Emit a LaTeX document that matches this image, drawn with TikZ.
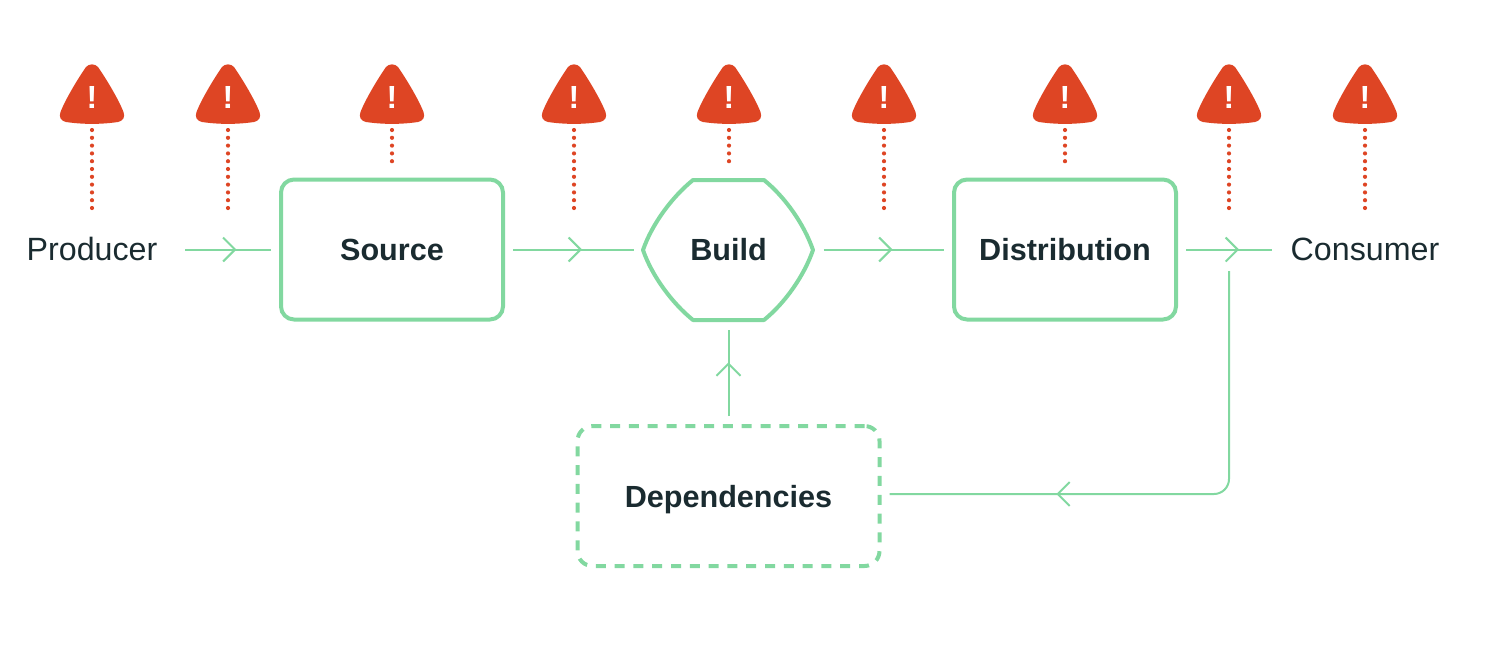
\documentclass[tikz,border=0pt]{standalone}
\usepackage{fontspec}
\setmainfont{Liberation Sans}
\usetikzlibrary{arrows.meta,decorations.markings}

\definecolor{flowgreen}{HTML}{82D8A0}
\definecolor{alertred}{HTML}{DE4524}
\definecolor{inkdark}{HTML}{1A2B30}

\tikzset{
  stage/.style={align=center, text=inkdark, font=\fontsize{15.3}{18}\selectfont\bfseries, inner sep=0pt, outer sep=5pt, text height=14pt, text depth=3pt},
  box/.style={stage, draw=flowgreen, line width=2pt, rounded corners=6.5pt, minimum width=111pt, minimum height=70pt},
  endpoint/.style={align=center, text=inkdark, font=\fontsize{16.1}{18}\selectfont, inner sep=0pt, minimum width=93pt, text height=13.5pt, text depth=3pt},
  alert/.style={text=white, font=\fontsize{16}{16}\selectfont\bfseries, inner sep=0pt, minimum width=32pt, minimum height=27pt, outer sep=3pt},
  dots/.style={alertred, line width=2.1pt, line cap=round, dash pattern=on 0pt off 3.9pt},
  flow/.style={flowgreen, line width=1pt, decoration={markings, mark=at position #1 with {\arrow[flowgreen, line width=1pt]{Straight Barb[length=6pt, width=12pt]}}}, postaction={decorate}}
}

\begin{document}
\begin{tikzpicture}[x=0.5pt, y=-0.5pt]
\useasboundingbox (0,0) rectangle (1512,660);

\node[endpoint] (prod) at (92,249.5) {Producer};
\node[endpoint] (cons) at (1365,249.5) {Consumer};
\node[box] (src) at (392,249.5) {Source};
\node[box] (dist) at (1065,249.5) {Distribution};

% build has a shape of its own, the node only holds the label
\draw[flowgreen, line width=2pt, fill=white, line join=round] (693,180) -- (764,180) .. controls (785,197) and (804,224) .. (813,250) .. controls (804,276) and (785,303) .. (764,320) -- (693,320) .. controls (672,303) and (652,276) .. (643,250) .. controls (652,224) and (672,197) .. (693,180) -- cycle;
\node[stage, minimum width=85pt, minimum height=70pt] (bld) at (728.5,249.5) {Build};

\node[box, minimum width=151pt, rounded corners=7.5pt, dash pattern=on 5pt off 4.4pt] (dep) at (728.5,496) {Dependencies};

\coordinate (loop) at (1229,271);

\draw[flow=0.597] (prod) -- (src);
\draw[flow=0.573] (src) -- (bld);
\draw[flow=0.573] (bld) -- (dist);
\draw[flow=0.62] (dist) -- (cons);
\draw[flow=0.62] (dep.north) -- (bld.south);
\draw[flow=0.70, rounded corners=7.5pt] (loop) |- ([yshift=1pt]dep.east);

\foreach \nm/\xx/\yy in {a/92/208.3, b/228/208.3, c/392/161.5, d/574/208.3, e/729/161.5, f/884/208.3, g/1065/161.5, h/1229/208.3, i/1365/208.3} {
  \fill[alertred, shift={(\xx,0)}] (-6,67) .. controls (-3,63.5) and (3,63.5) .. (6,67) .. controls (13,77) and (26,98) .. (31.5,112) .. controls (33.5,117) and (31,121) .. (26,122) .. controls (9,124.5) and (-9,124.5) .. (-26,122) .. controls (-31,121) and (-33.5,117) .. (-31.5,112) .. controls (-26,98) and (-13,77) .. (-6,67) -- cycle;
  \node[alert] (alert\nm) at (\xx,97) {!};
  \coordinate (end\nm) at (\xx,\yy);
  \draw[dots] (alert\nm.south) -- (end\nm);
}
\end{tikzpicture}
\end{document}
